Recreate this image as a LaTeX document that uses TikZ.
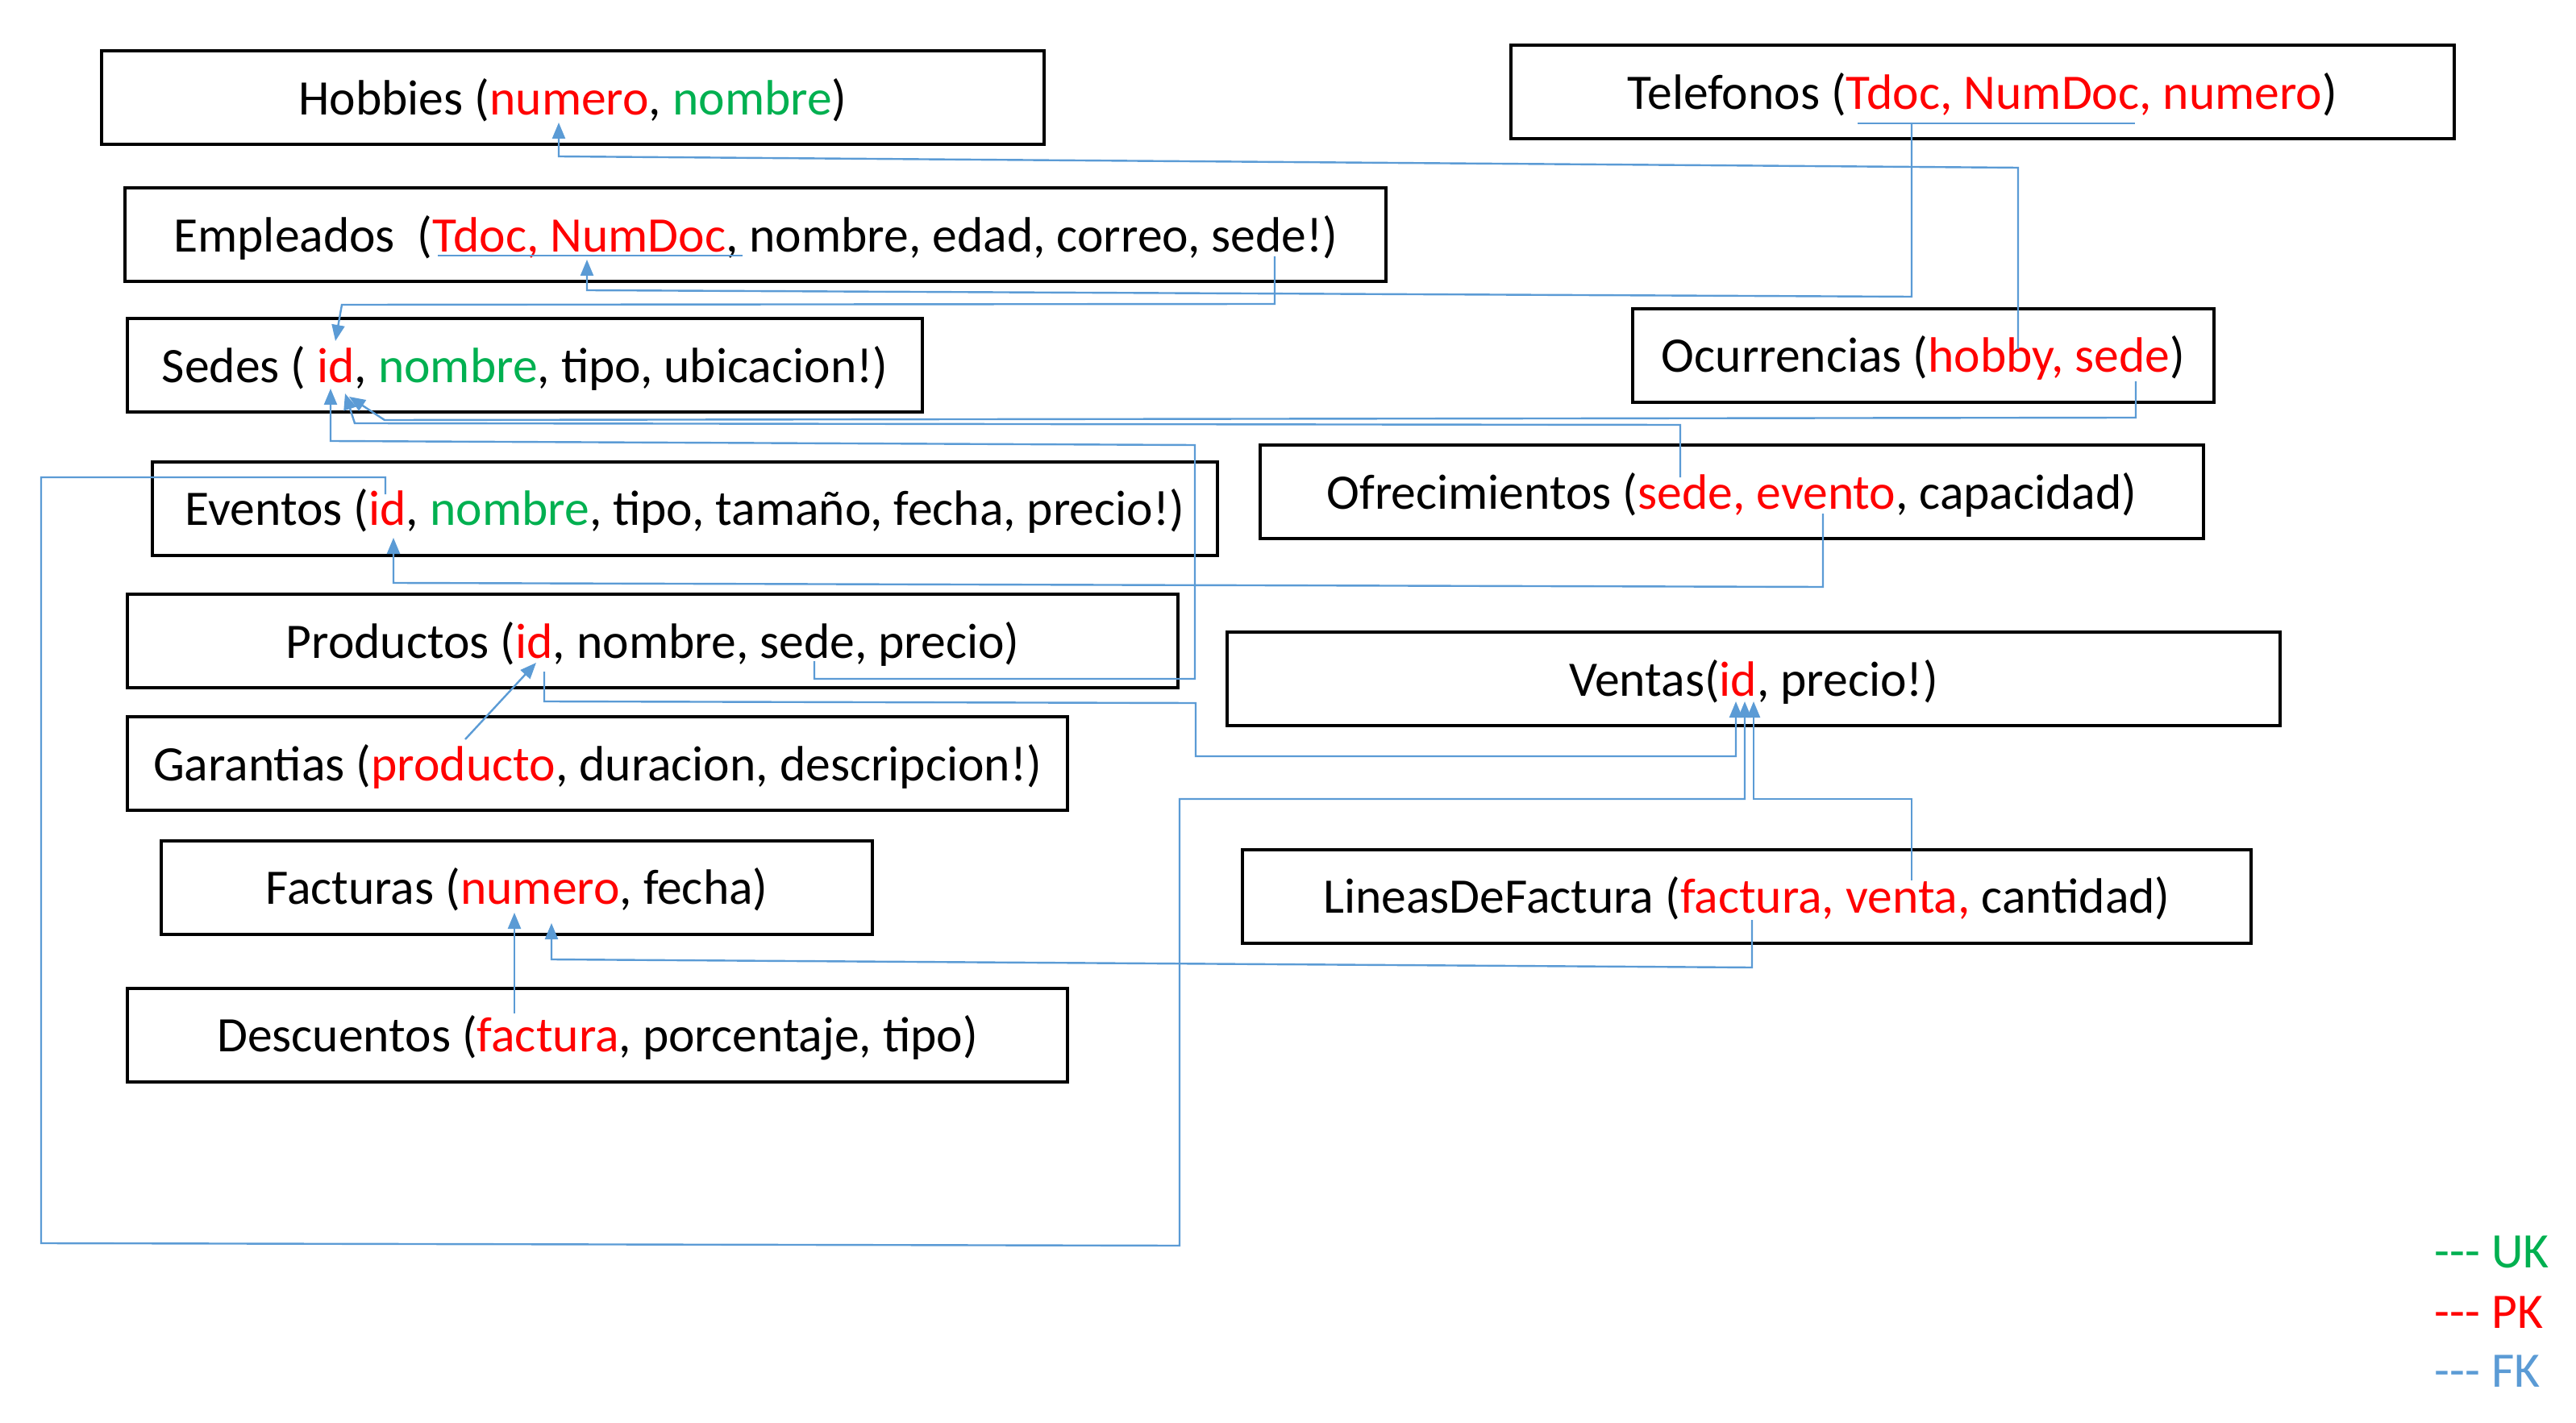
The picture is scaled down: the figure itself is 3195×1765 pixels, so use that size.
\documentclass[tikz,border=0pt]{standalone}
\usepackage{fontspec}
\setmainfont{Carlito}
\usetikzlibrary{arrows.meta}
\definecolor{pkred}{HTML}{FF0000}
\definecolor{ukgreen}{HTML}{00B050}
\definecolor{fkblue}{HTML}{5B9BD5}
\newcommand{\pk}[1]{\textcolor{pkred}{#1}}
\newcommand{\uk}[1]{\textcolor{ukgreen}{#1}}
\begin{document}
\begin{tikzpicture}[x=0.25pt,y=-0.25pt,
  font=\fontsize{15.4pt}{18pt}\selectfont,
  entity/.style={draw=black, line width=1pt, inner sep=0pt, minimum height=29pt,
                 text height=12pt, text depth=1.5pt},
  fk/.style={draw=fkblue, line width=0.6pt, -{Triangle[length=5pt,width=4pt]}},
  fkline/.style={draw=fkblue, line width=0.6pt},
  legend/.style={anchor=base west, inner sep=0pt}]
\useasboundingbox (0,0) rectangle (3195,1765);

% entities
\node[entity, minimum width=292.25pt] (hob) at (710.5,121.5) {Hobbies (\pk{numero}, \uk{nombre})};
\node[entity, minimum width=292.5pt] (tel) at (2459,114.5) {Telefonos (\pk{Tdoc, NumDoc, numero})};
\node[entity, minimum width=391pt] (emp) at (937,291) {Empleados\ \ (\pk{Tdoc, NumDoc}, nombre, edad, correo, sede!)};
\node[entity, minimum width=246.5pt] (sed) at (651,453) {Sedes ( \pk{id}, \uk{nombre}, tipo, ubicacion!)};
\node[entity, minimum width=180.25pt] (ocu) at (2385.5,441) {Ocurrencias (\pk{hobby, sede})};
\node[entity, minimum width=330.25pt] (eve) at (849.5,630.5) {Eventos (\pk{id}, \uk{nombre}, tipo, tamaño, fecha, precio!)};
\node[entity, minimum width=292.5pt] (ofr) at (2148,610) {Ofrecimientos (\pk{sede, evento}, capacidad)};
\node[entity, minimum width=325.75pt] (pro) at (809.5,795) {Productos (\pk{id}, nombre, sede, precio)};
\node[entity, minimum width=326.5pt] (ven) at (2175,842) {Ventas(\pk{id}, precio!)};
\node[entity, minimum width=291.5pt] (gar) at (741,947) {Garantias (\pk{producto}, duracion, descripcion!)};
\node[entity, minimum width=220.5pt] (fac) at (641,1100.5) {Facturas (\pk{numero}, fecha)};
\node[entity, minimum width=312.75pt] (lin) at (2166.5,1111.5) {LineasDeFactura (\pk{factura, venta,} cantidad)};
\node[entity, minimum width=291.5pt] (des) at (741,1283.5) {Descuentos (\pk{factura}, porcentaje, tipo)};

% attribute anchor points
\coordinate (hobNum) at (693,152);
\coordinate (ocuHobby) at (2503,433);
\coordinate (ocuSede) at (2649,473);
\coordinate (telU1) at (2304,153);
\coordinate (telU2) at (2648,153);
\coordinate (telKey) at (2371,153);
\coordinate (empU1) at (543,317);
\coordinate (empU2) at (921,317);
\coordinate (empKey) at (728,322);
\coordinate (empSede) at (1581,318);
\coordinate (sedIdA) at (416,423);
\coordinate (sedIdB) at (433,492);
\coordinate (sedIdC) at (428,488);
\coordinate (sedIdD) at (410,482);
\coordinate (ofrSede) at (2084,592);
\coordinate (ofrEvento) at (2261,637);
\coordinate (eveIdIn) at (488,667);
\coordinate (eveIdOut) at (478,613);
\coordinate (proSede) at (1010,820);
\coordinate (proIdOut) at (675,833);
\coordinate (proIdIn) at (665,822);
\coordinate (venIdA) at (2153,870);
\coordinate (venIdB) at (2164,870);
\coordinate (venIdC) at (2175,870);
\coordinate (garProd) at (577,917);
\coordinate (linFactura) at (2173,1141);
\coordinate (linVenta) at (2371,1092);
\coordinate (facNumA) at (684,1145);
\coordinate (facNumB) at (638,1132);
\coordinate (desFactura) at (638,1257);

% underlines of composite keys
\draw[fkline] (telU1) -- (telU2);
\draw[fkline] (empU1) -- (empU2);

% foreign keys
\draw[fk] (ocuHobby) -- (2503,208) -- (693,194) -- (hobNum);
\draw[fk] (telKey) -- (2371,368) -- (728,360) -- (empKey);
\draw[fk] (empSede) -- (1581,377) -- (424,378) -- (sedIdA);
\draw[fk] (ocuSede) -- (2649,518) -- (477,521) -- (sedIdB);
\draw[fk] (ofrSede) -- (2084,527) -- (440,525) -- (sedIdC);
\draw[fk] (proSede) -- (1010,842) -- (1482,842) -- (1482,552) -- (410,547) -- (sedIdD);
\draw[fk] (ofrEvento) -- (2261,728) -- (488,723) -- (eveIdIn);
\draw[fk] (eveIdOut) -- (478,592) -- (51,592) -- (51,1542) -- (1463,1545) -- (1463,991) -- (2164,991) -- (venIdB);
\draw[fk] (proIdOut) -- (675,870) -- (1483,872) -- (1483,938) -- (2153,938) -- (venIdA);
\draw[fk] (linVenta) -- (2371,991) -- (2175,991) -- (venIdC);
\draw[fk] (linFactura) -- (2173,1200) -- (684,1190) -- (facNumA);
\draw[fk] (desFactura) -- (facNumB);
\draw[fk] (garProd) -- (proIdIn);

% legend
\node[legend, text=ukgreen] (lgUK) at (3019,1572) {-\kern0pt-\kern0pt- UK};
\node[legend, text=pkred] (lgPK) at (3019,1647) {-\kern0pt-\kern0pt- PK};
\node[legend, text=fkblue] (lgFK) at (3019,1720) {-\kern0pt-\kern0pt- FK};
\end{tikzpicture}
\end{document}
